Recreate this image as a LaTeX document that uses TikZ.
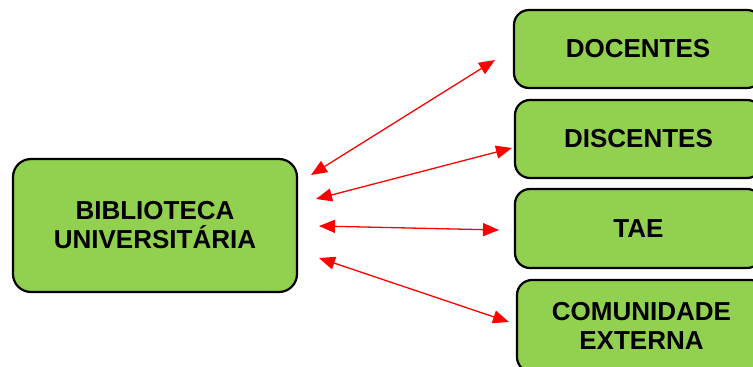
\documentclass[tikz,border=0pt]{standalone}
\usepackage{fontspec}
\setmainfont{Liberation Sans}
\usetikzlibrary{arrows.meta,calc}
\definecolor{boxgreen}{HTML}{92D050}
\definecolor{linkred}{HTML}{FF0000}
\tikzset{
  box/.style={draw=black, fill=boxgreen, line width=2.2pt, rounded corners=15pt,
    inner sep=0pt, outer sep=0pt, align=center,
    font=\fontsize{26}{29}\selectfont\bfseries},
  link/.style={draw=linkred, line width=1.3pt,
    {Triangle[length=16pt,width=13pt]}-{Triangle[length=16pt,width=13pt]}}
}
\begin{document}
\begin{tikzpicture}[x=1pt,y=-1pt]
  \useasboundingbox (0,0) rectangle (753,367);
  \clip (0,0) rectangle (753,367);
  % central node
  \node[box, rounded corners=18pt, minimum width=284pt, minimum height=133pt] (bib) at (155,225.5)
    {BIBLIOTECA\\UNIVERSITÁRIA};
  % user groups
  \node[box, minimum width=248pt, minimum height=78pt] (doc) at (638,49) {DOCENTES};
  \node[box, minimum width=247pt, minimum height=78pt] (dis) at (638.5,139) {DISCENTES};
  \node[box, minimum width=247pt, minimum height=79pt] (tae) at (638.5,228.5) {TAE};
  \node[box, minimum width=249pt, minimum height=92pt] (com) at (641.5,326) {COMUNIDADE\\EXTERNA};
  % two-way links
  \draw[link] ($(bib.north east)+(14,16)$) -- ($(doc.west)+(-19,11)$);
  \draw[link] ($(bib.east)+(19,-26.5)$) -- ($(dis.west)+(-3,9)$);
  \draw[link] ($(bib.east)+(22,0.5)$) -- ($(tae.west)+(-16,1.5)$);
  \draw[link] ($(bib.east)+(22,32.5)$) -- ($(com.west)+(-8,-4)$);
\end{tikzpicture}
\end{document}
